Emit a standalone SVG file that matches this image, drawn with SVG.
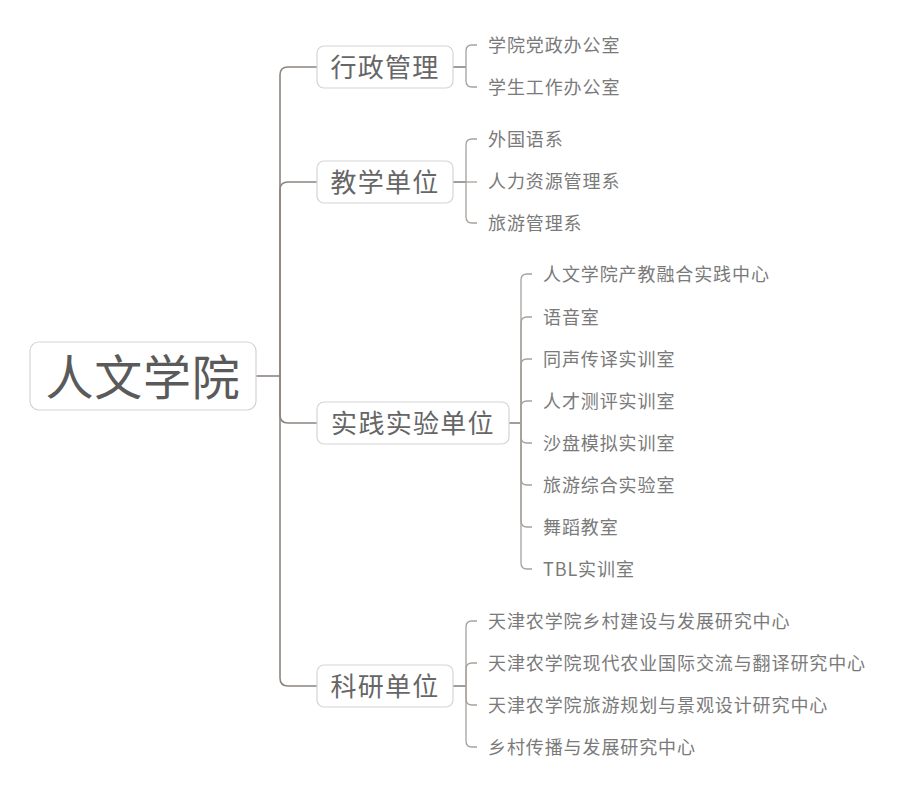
<svg xmlns="http://www.w3.org/2000/svg" width="910" height="794" viewBox="0 0 910 794">
<style>
text{font-family:"Noto Sans CJK SC","Noto Sans",sans-serif;dominant-baseline:central}
.box{fill:#fff;stroke:#d4d4d4;stroke-width:1.2}
.root{font-size:48px;fill:#5a5a5a;letter-spacing:0.75px}
.br{font-size:26px;fill:#666;letter-spacing:1.3px}
.lf{font-size:18px;fill:#7a7a7a;letter-spacing:0.9px}
.c1{fill:none;stroke:#8c8580;stroke-width:1.6}
.c2{fill:none;stroke:#a6a09c;stroke-width:1.3}
</style>
<rect width="910" height="794" fill="#fff"/>
<g id="connectors">
<path class="c1" d="M256,376H280"/>
<path class="c1" d="M280,376V75Q280,67 288,67H317"/>
<path class="c1" d="M280,376V190Q280,182 288,182H317"/>
<path class="c1" d="M280,376V415Q280,423 288,423H317"/>
<path class="c1" d="M280,376V678Q280,686 288,686H317"/>
<path class="c1" d="M453,67H466"/>
<path class="c2" d="M466,67V51Q466,45 472,45H477"/>
<path class="c2" d="M466,67V81Q466,87 472,87H477"/>
<path class="c1" d="M453,182H466"/>
<path class="c2" d="M466,182V145Q466,139 472,139H477"/>
<path class="c2" d="M466,182H477"/>
<path class="c2" d="M466,182V217Q466,223 472,223H477"/>
<path class="c1" d="M509,423H521"/>
<path class="c2" d="M521,423V280Q521,274 527,274H532"/>
<path class="c2" d="M521,423V323Q521,317 527,317H532"/>
<path class="c2" d="M521,423V365Q521,359 527,359H532"/>
<path class="c2" d="M521,423V407Q521,401 527,401H532"/>
<path class="c2" d="M521,423V437Q521,443 527,443H532"/>
<path class="c2" d="M521,423V479Q521,485 527,485H532"/>
<path class="c2" d="M521,423V521Q521,527 527,527H532"/>
<path class="c2" d="M521,423V563Q521,569 527,569H532"/>
<path class="c1" d="M453,686H466"/>
<path class="c2" d="M466,686V627Q466,621 472,621H477"/>
<path class="c2" d="M466,686V669Q466,663 472,663H477"/>
<path class="c2" d="M466,686V699Q466,705 472,705H477"/>
<path class="c2" d="M466,686V741Q466,747 472,747H477"/>
</g>
<g id="root">
<rect class="box" x="30" y="342" width="226" height="68" rx="9"/>
<text class="root" x="143" y="374" text-anchor="middle">人文学院</text>
</g>
<g id="n-xingzheng">
<rect class="box" x="317" y="46" width="136" height="42" rx="7"/>
<text class="br" x="385" y="65.5" text-anchor="middle">行政管理</text>
</g>
<g id="n-jiaoxue">
<rect class="box" x="317" y="161" width="136" height="42" rx="7"/>
<text class="br" x="385" y="180.5" text-anchor="middle">教学单位</text>
</g>
<g id="n-shijian">
<rect class="box" x="317" y="402" width="192" height="42" rx="7"/>
<text class="br" x="413" y="421.5" text-anchor="middle">实践实验单位</text>
</g>
<g id="n-keyan">
<rect class="box" x="317" y="665" width="136" height="42" rx="7"/>
<text class="br" x="385" y="684.5" text-anchor="middle">科研单位</text>
</g>
<g id="leaves-xingzheng">
<text class="lf" x="488" y="44">学院党政办公室</text>
<text class="lf" x="488" y="86">学生工作办公室</text>
</g>
<g id="leaves-jiaoxue">
<text class="lf" x="488" y="138">外国语系</text>
<text class="lf" x="488" y="180">人力资源管理系</text>
<text class="lf" x="488" y="222">旅游管理系</text>
</g>
<g id="leaves-shijian">
<text class="lf" x="543" y="273">人文学院产教融合实践中心</text>
<text class="lf" x="543" y="316">语音室</text>
<text class="lf" x="543" y="358">同声传译实训室</text>
<text class="lf" x="543" y="400">人才测评实训室</text>
<text class="lf" x="543" y="442">沙盘模拟实训室</text>
<text class="lf" x="543" y="484">旅游综合实验室</text>
<text class="lf" x="543" y="526">舞蹈教室</text>
<text class="lf" x="543" y="568">TBL实训室</text>
</g>
<g id="leaves-keyan">
<text class="lf" x="488" y="620">天津农学院乡村建设与发展研究中心</text>
<text class="lf" x="488" y="662">天津农学院现代农业国际交流与翻译研究中心</text>
<text class="lf" x="488" y="704">天津农学院旅游规划与景观设计研究中心</text>
<text class="lf" x="488" y="746">乡村传播与发展研究中心</text>
</g>
</svg>
